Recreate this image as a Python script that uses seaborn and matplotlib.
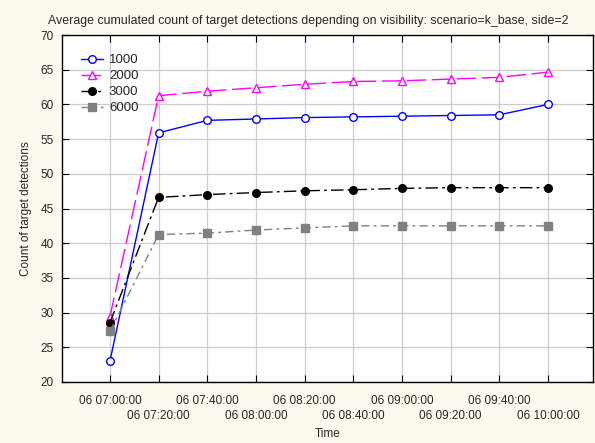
import matplotlib
matplotlib.use("Agg")
import matplotlib.pyplot as plt
import seaborn as sns
import pandas as pd

times = ["06 07:00:00", "06 07:20:00", "06 07:40:00", "06 08:00:00", "06 08:20:00",
         "06 08:40:00", "06 09:00:00", "06 09:20:00", "06 09:40:00", "06 10:00:00"]
minutes = [0, 20, 40, 60, 80, 100, 120, 140, 160, 180]
s1000 = [23.0, 55.9, 57.7, 57.9, 58.1, 58.2, 58.3, 58.4, 58.5, 60.0]
s2000 = [29.4, 61.25, 61.9, 62.4, 62.9, 63.3, 63.4, 63.65, 63.9, 64.65]
s3000 = [28.55, 46.6, 47.0, 47.3, 47.55, 47.7, 47.9, 48.0, 48.0, 48.0]
s6000 = [27.3, 41.25, 41.45, 41.9, 42.2, 42.5, 42.5, 42.5, 42.5, 42.5]
yticks = [20, 25, 30, 35, 40, 45, 50, 55, 60, 65, 70]

sns.set_theme(style="white")
plt.rcParams['font.family'] = ['Liberation Sans', 'DejaVu Sans']

bg = "#FDF9EE"
fig = plt.figure(figsize=(5.95, 4.43), dpi=100, facecolor=bg)
ax = fig.add_axes([62/595, 61/443, 531/595, 347/443])
ax.set_facecolor("white")

series = [
    ("1000", s1000, dict(color="#0000FF", marker="o", markersize=5.5, markerfacecolor="white",
                         markeredgecolor="#0000FF", linestyle="-")),
    ("2000", s2000, dict(color="#FF00FF", marker="^", markersize=5.5, markerfacecolor="white",
                         markeredgecolor="#FF00FF", linestyle=(0, (14, 4)))),
    ("3000", s3000, dict(color="black", marker="o", markersize=5.5, markerfacecolor="black",
                         markeredgecolor="black", linestyle=(0, (9, 3, 2, 3)))),
    ("6000", s6000, dict(color="#808080", marker="s", markersize=5.3, markerfacecolor="#808080",
                         markeredgecolor="#808080", linestyle=(0, (6, 3, 2, 3)))),
]
for name, vals, kw in series:
    df = pd.DataFrame({"Time": minutes, "Count": vals})
    sns.lineplot(data=df, x="Time", y="Count", ax=ax, label=name, linewidth=1,
                 markeredgewidth=1, zorder=3, **kw)

ax.set_xlim(-19.7, 198.5)
ax.set_ylim(20, 70)
ax.set_yticks(yticks)
ax.set_xticks(minutes[0::2])
ax.set_xticklabels(times[0::2], fontsize=8.5)
ax.set_xticks(minutes[1::2], minor=True)
ax.set_xticklabels(times[1::2], minor=True, fontsize=8.5)
ax.tick_params(axis="y", labelsize=8.5)
ax.tick_params(which="both", direction="in", length=5, width=0.8, color="black",
               top=True, right=True, bottom=True, left=True)
ax.tick_params(axis="y", pad=6)
ax.tick_params(axis="x", which="major", pad=9)
ax.tick_params(axis="x", which="minor", pad=20)
ax.grid(True, which="both", axis="x", color="#CCCCCC", linewidth=0.9, zorder=0)
ax.grid(True, which="major", axis="y", color="#CCCCCC", linewidth=0.9, zorder=0)
for sp in ax.spines.values():
    sp.set_color("black")
    sp.set_linewidth(1)

ax.set_xlabel("Time", fontsize=8.5, labelpad=0)
ax.xaxis.set_label_coords(0.5, -0.132)
ax.set_ylabel("Count of target detections", fontsize=8.5, labelpad=6)
fig.text(308/595, 1 - 21/443,
         "Average cumulated count of target detections depending on visibility: scenario=k_base, side=2",
         fontsize=8.9, ha="center", va="center")

leg = ax.legend(loc="upper left", frameon=False, fontsize=9.5, handlelength=1.7,
                handletextpad=0.45, labelspacing=0.28, borderaxespad=0,
                bbox_to_anchor=(0.025, 0.96))

fig.savefig("out.png", dpi=100, facecolor=bg)
